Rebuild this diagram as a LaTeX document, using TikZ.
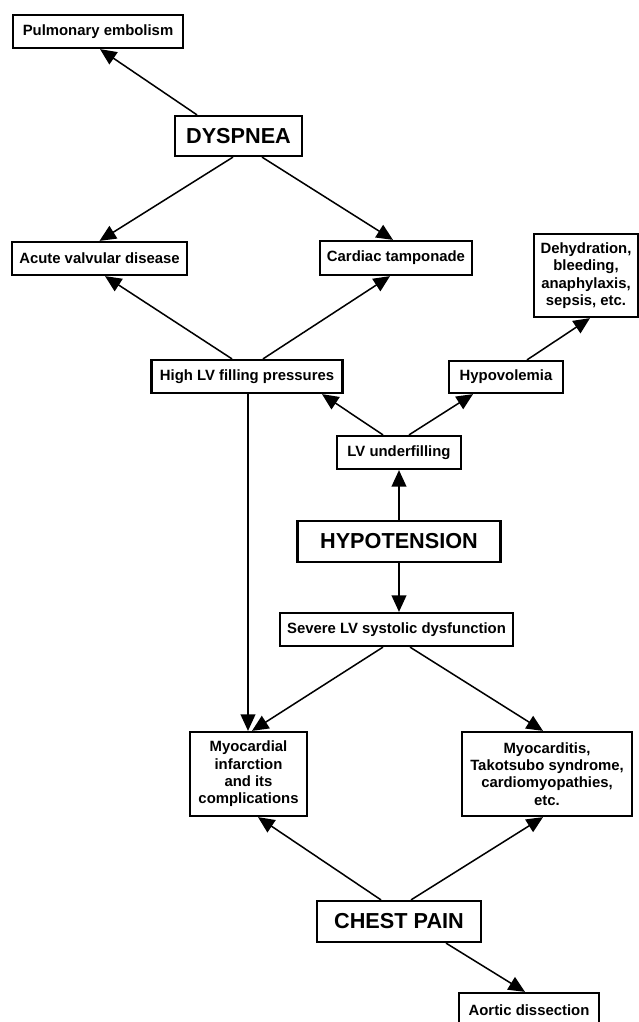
\documentclass[tikz,border=0pt]{standalone}
\usepackage{fontspec}
\setmainfont{Liberation Sans}
\usetikzlibrary{arrows.meta,calc}
\newcommand\pxu{0.03cm}
\newcommand\boxLine{1.9pt}
\newcommand\arrLine{1.3pt}
\tikzset{
  box/.style={draw, line width=\boxLine, align=center, inner sep=0pt, fill=white,
    font=\bfseries\fontsize{12.7}{14.8}\selectfont},
  bigbox/.style={box, font=\bfseries\fontsize{18.5}{21}\selectfont},
  sz/.style 2 args={minimum width=#1*\pxu, minimum height=#2*\pxu},
  arr/.style={line width=\arrLine, -{Triangle[length=14pt,width=12.5pt]}}
}
\begin{document}
\begin{tikzpicture}[x=0.03cm, y=-0.03cm]
    \useasboundingbox[fill=white] (0,0) rectangle (639,1022);

    %% the three complaints
    \node[bigbox, sz={127}{40}] (dysp) at (238.5,136) {DYSPNEA};
    \node[bigbox, sz={203}{41}] (hypo) at (399,541.5) {HYPOTENSION};
    \node[bigbox, sz={164}{41}] (chest) at (399,921.5) {CHEST PAIN};

    %% causes
    \node[box, sz={170}{33}] (pe) at (98,31.5) {Pulmonary embolism};
    \node[box, sz={175}{33}] (avd) at (99.5,258.5) {Acute valvular disease};
    \node[box, sz={152}{34}] (tamp) at (396,258) {Cardiac tamponade};
    \node[box, sz={104}{83}] (dehyd) at (586,275.5) {Dehydration,\\bleeding,\\anaphylaxis,\\sepsis, etc.};
    \node[box, sz={191}{33}] (hlv) at (247,376.5) {High LV filling pressures};
    \node[box, sz={114}{32}] (hypov) at (506,377) {Hypovolemia};
    \node[box, sz={124}{33}] (under) at (399,452.5) {LV underfilling};
    \node[box, sz={233}{33}] (sever) at (396.5,629.5) {Severe LV systolic dysfunction};
    \node[box, sz={117}{84}] (mi) at (248.5,774) {Myocardial\\infarction\\and its\\complications};
    \node[box, sz={170}{84}] (myoc) at (547,774) {Myocarditis,\\Takotsubo syndrome,\\cardiomyopathies,\\etc.};
    \node[box, sz={140}{34}] (aort) at (529,1010) {Aortic dissection};

    %% dyspnea branch
    \draw[arr] ($(dysp.north)+(-41.5,0)$) -- ($(pe.south)+(2,0)$);
    \draw[arr] ($(dysp.south)+(-5.5,0)$) -- (avd.north);
    \draw[arr] ($(dysp.south)+(23.5,0)$) -- ($(tamp.north)+(-3,0)$);
    \draw[arr] ($(hlv.north)+(-15,0)$) -- ($(avd.south)+(5.5,0)$);
    \draw[arr] ($(hlv.north)+(16,0)$) -- ($(tamp.south)+(-6,0)$);
    \draw[arr] ($(hlv.south)+(1,0)$) -- ($(mi.north)+(-0.5,0)$);

    %% hypotension branch
    \draw[arr] (hypo.north) -- (under.south);
    \draw[arr] ($(under.north)+(-16,0)$) -- ($(hlv.south)+(75,0)$);
    \draw[arr] ($(under.north)+(10,0)$) -- ($(hypov.south)+(-33,0)$);
    \draw[arr] ($(hypov.north)+(21,0)$) -- ($(dehyd.south)+(4,0)$);
    \draw[arr] (hypo.south) -- (hypo.south |- sever.north);
    \draw[arr] ($(sever.south)+(-13.5,0)$) -- ($(mi.north)+(3.5,0)$);
    \draw[arr] ($(sever.south)+(13.5,0)$) -- ($(myoc.north)+(-4,0)$);

    %% chest pain branch
    \draw[arr] ($(chest.north)+(-18,0)$) -- ($(mi.south)+(9.5,0)$);
    \draw[arr] ($(chest.north)+(12,0)$) -- ($(myoc.south)+(-4,0)$);
    \draw[arr] ($(chest.south)+(47,0)$) -- ($(aort.north)+(-4,0)$);

  \end{tikzpicture}
\end{document}
